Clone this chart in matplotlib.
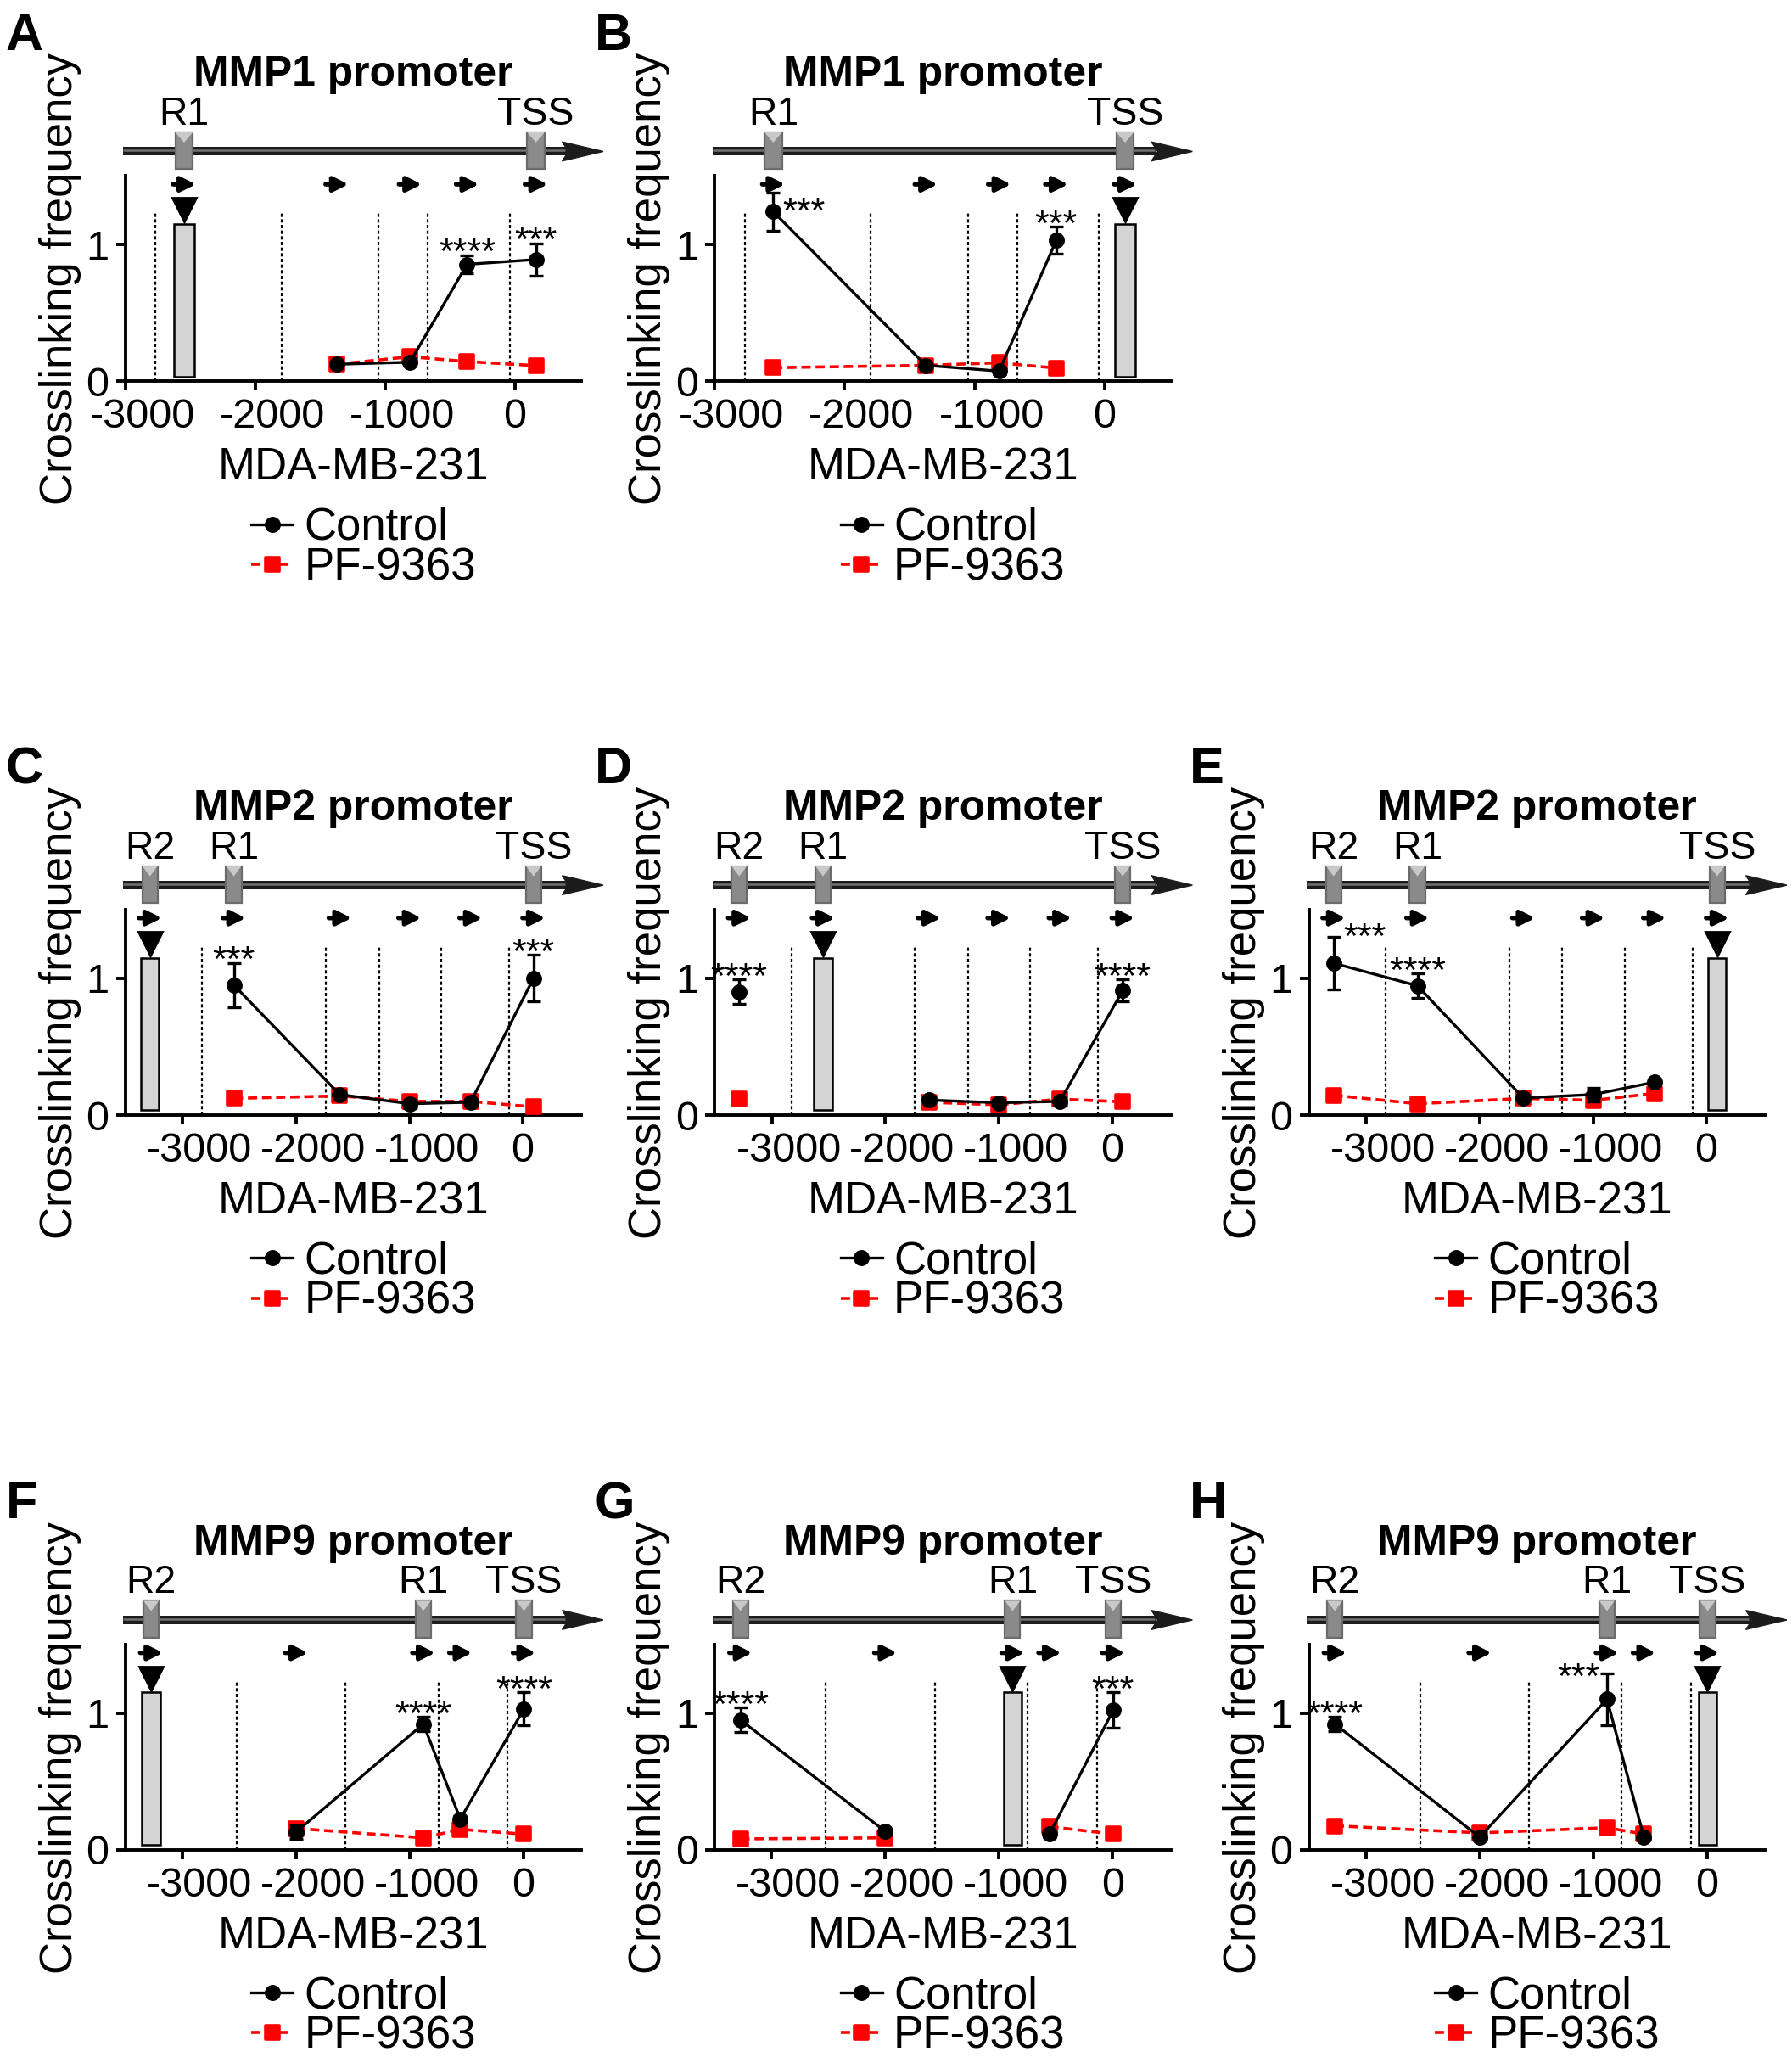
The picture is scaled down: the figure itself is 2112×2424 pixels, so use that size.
import numpy as np
import matplotlib
matplotlib.use('Agg')
import matplotlib.pyplot as plt
from matplotlib.patches import Rectangle, Polygon
from matplotlib.markers import MarkerStyle
from matplotlib.transforms import blended_transform_factory, ScaledTranslation

plt.rcParams['font.family'] = ['Liberation Sans', 'DejaVu Sans']
plt.rcParams['axes.unicode_minus'] = False

nan = np.nan

# fragment centres (bp relative to TSS), promoter sites and cut sites
mmp1_frag = [-2550, -1375, -810, -370, 160]
mmp1_sites = ['R1', 'TSS']
mmp1_site_x = [-2550, 160]
mmp1_cuts = [-2770, -1798, -1051, -673, -40]

mmp2_frag = [-3290, -2550, -1615, -1000, -460, 95]
mmp2_sites = ['R2', 'R1', 'TSS']
mmp2_site_x = [-3290, -2550, 95]
mmp2_cuts = [-2830, -1740, -1270, -720, -120]

mmp9_frag = [-3275, -2000, -880, -555, 5]
mmp9_sites = ['R2', 'R1', 'TSS']
mmp9_site_x = [-3275, -880, 5]
mmp9_cuts = [-2525, -1566, -749, -139]

# crosslinking frequency, nan = anchor (bait) fragment
a_ctrl = [nan, 0.125, 0.14, 0.855, 0.89]
a_err = [nan, 0.02, 0.02, 0.067, 0.12]
a_pf = [nan, 0.125, 0.18, 0.145, 0.115]

b_ctrl = [1.24, 0.117, 0.075, 1.03, nan]
b_err = [0.14, 0.02, 0.02, 0.10, nan]
b_pf = [0.10, 0.117, 0.136, 0.097, nan]

c_ctrl = [nan, 0.95, 0.15, 0.083, 0.094, 1.0]
c_err = [nan, 0.16, 0.02, 0.03, 0.02, 0.17]
c_pf = [nan, 0.122, 0.14, 0.10, 0.10, 0.06]

d_ctrl = [0.90, nan, 0.11, 0.09, 0.10, 0.91]
d_err = [0.09, nan, 0.02, 0.02, 0.02, 0.08]
d_pf = [0.117, nan, 0.094, 0.075, 0.117, 0.097]

e_ctrl = [1.11, 0.945, 0.125, 0.15, 0.24, nan]
e_err = [0.195, 0.088, 0.02, 0.05, 0.02, nan]
e_pf = [0.145, 0.083, 0.122, 0.108, 0.158, nan]

f_ctrl = [nan, 0.13, 0.92, 0.225, 1.03]
f_err = [nan, 0.05, 0.05, 0.02, 0.12]
f_pf = [nan, 0.157, 0.088, 0.15, 0.115]

g_ctrl = [0.95, 0.135, nan, 0.115, 1.02]
g_err = [0.09, 0.02, nan, 0.02, 0.13]
g_pf = [0.08, 0.088, nan, 0.17, 0.115]

h_ctrl = [0.92, 0.093, 1.10, 0.093, nan]
h_err = [0.05, 0.02, 0.19, 0.02, nan]
h_pf = [0.176, 0.124, 0.162, 0.115, nan]

# significance labels: fragment index -> stars
a_stars = {3: '****', 4: '***'}
b_stars = {0: '***', 3: '***'}
c_stars = {1: '***', 5: '***'}
d_stars = {0: '****', 5: '****'}
e_stars = {0: '***', 1: '****'}
f_stars = {2: '****', 4: '****'}
g_stars = {0: '****', 4: '***'}
h_stars = {0: '****', 2: '***'}

promoters = {
    'MMP1': (mmp1_frag, mmp1_sites, mmp1_site_x, mmp1_cuts, (-3000, 510)),
    'MMP2': (mmp2_frag, mmp2_sites, mmp2_site_x, mmp2_cuts, (-3505, 517)),
    'MMP9': (mmp9_frag, mmp9_sites, mmp9_site_x, mmp9_cuts, (-3500, 510)),
}

panels = [
    ('A', 'MMP1', 0, a_ctrl, a_err, a_pf, a_stars),
    ('B', 'MMP1', 4, b_ctrl, b_err, b_pf, b_stars),
    ('C', 'MMP2', 0, c_ctrl, c_err, c_pf, c_stars),
    ('D', 'MMP2', 1, d_ctrl, d_err, d_pf, d_stars),
    ('E', 'MMP2', 5, e_ctrl, e_err, e_pf, e_stars),
    ('F', 'MMP9', 0, f_ctrl, f_err, f_pf, f_stars),
    ('G', 'MMP9', 2, g_ctrl, g_err, g_pf, g_stars),
    ('H', 'MMP9', 4, h_ctrl, h_err, h_pf, h_stars),
]

# layout (figure fractions)
FIG_W, FIG_H, DPI = 2112, 2424, 200
col_left = [0.0701, 0.3989, 0.7306]
row_bottom = [0.8146, 0.4579, 0.1007]
AX_W, AX_H = 0.2543, 0.0998
slots = {'A': (0, 0), 'B': (0, 1), 'C': (1, 0), 'D': (1, 1), 'E': (1, 2),
         'F': (2, 0), 'G': (2, 1), 'H': (2, 2)}
# special star placement: (ha, dy from error-bar top, dx in points)
star_side = {('B', 0): ('left', -0.15, 4), ('E', 0): ('left', -0.015, 4),
             ('H', 2): ('right', -0.04, -3)}

RED = '#ff0000'
FS_TICK, FS_LAB, FS_TITLE, FS_SITE, FS_STAR = 17.5, 19, 17.9, 16.7, 15.5

fig = plt.figure(figsize=(FIG_W / DPI, FIG_H / DPI), dpi=DPI)
# negative tick labels sit a little right of their ticks, as in the source
tick_shift = ScaledTranslation(20 / DPI, 0, fig.dpi_scale_trans)

for letter, prom, bait, ctrl, err, pf, stars in panels:
    r, c = slots[letter]
    ax = fig.add_axes([col_left[c], row_bottom[r], AX_W, AX_H])
    frag, sites, site_x, cuts, xlim = promoters[prom]
    frag = np.array(frag, float)
    ctrl = np.array(ctrl, float)
    err = np.array(err, float)
    pf = np.array(pf, float)
    upp = (xlim[1] - xlim[0]) / (AX_W * FIG_W)  # data units per pixel
    bt = blended_transform_factory(ax.transAxes, ax.transData)

    ax.vlines(cuts, 0, 1.24, colors='k', linestyles=(0, (1.8, 1.2)), lw=0.8)

    # bait fragment marker
    bx = frag[bait]
    ax.add_patch(Rectangle((bx - 80, 0.035), 160, 1.115, facecolor='#d4d4d4',
                           edgecolor='k', lw=0.9, zorder=2))
    ax.plot([bx], [1.255], marker='v', color='k', ms=10, clip_on=False)

    # primer arrows
    for x in frag:
        ax.annotate('', xy=(x + 14 * upp, 1.44), xytext=(x - 13 * upp, 1.44),
                    arrowprops=dict(arrowstyle='-|>', color='k', lw=1.9,
                                    mutation_scale=13, shrinkA=0, shrinkB=0),
                    annotation_clip=False)

    # promoter diagram
    ax.plot([-0.005, 0.97], [1.68, 1.68], color='#1c1c1c', lw=3.6,
            transform=bt, clip_on=False, solid_capstyle='butt')
    ax.plot([-0.005, 0.965], [1.687, 1.687], color='#707070', lw=0.9,
            transform=bt, clip_on=False, solid_capstyle='butt')
    ax.add_patch(Polygon([[0.958, 1.75], [1.048, 1.68], [0.958, 1.61],
                          [0.972, 1.68]], closed=True, facecolor='#1c1c1c',
                         edgecolor='#1c1c1c', lw=0.5, transform=bt, clip_on=False))
    for name, sx in zip(sites, site_x):
        ax.add_patch(Rectangle((sx - 68, 1.55), 136, 0.27, facecolor='#8a8a8a',
                               edgecolor='#6b6b6b', lw=0.8, clip_on=False, zorder=5))
        ax.add_patch(Polygon([[sx - 68, 1.82], [sx + 68, 1.82], [sx, 1.745]],
                             closed=True, facecolor='#c9c9c9', edgecolor='none',
                             clip_on=False, zorder=6))
        ax.text(sx, 1.95, name, ha='center', va='center', fontsize=FS_SITE)
    ax.text(0.5, 2.24, prom + ' promoter', transform=bt, ha='center',
            va='center', fontsize=FS_TITLE, fontweight='bold')

    # data
    pf_line, = ax.plot(frag, pf, color=RED, lw=1.3, linestyle=(0, (3, 1.6)),
                       marker=MarkerStyle('s', joinstyle='round'), ms=6,
                       mew=1.3, mec=RED, mfc=RED, zorder=3, clip_on=False,
                       label='PF-9363')
    ctrl_line, = ax.plot(frag, ctrl, color='k', lw=1.2, marker='o', ms=5.8,
                         zorder=4, clip_on=False, label='Control')
    ax.errorbar(frag, ctrl, yerr=err, fmt='none', ecolor='k', elinewidth=1.2,
                capsize=2.8, capthick=1.2, zorder=4, clip_on=False)

    for i, s in stars.items():
        ha, dy, dx = star_side.get((letter, i), ('center', 0.01, 0))
        ax.annotate(s, xy=(frag[i], ctrl[i] + err[i] + dy), xytext=(dx, 0),
                    textcoords='offset points', ha=ha, va='center',
                    fontsize=FS_STAR, annotation_clip=False)

    ax.set_xlim(*xlim)
    ax.set_ylim(0, 1.5)
    ax.set_xticks([-3000, -2000, -1000, 0])
    ax.set_yticks([0, 1])
    for side in ('top', 'right'):
        ax.spines[side].set_visible(False)
    for side in ('left', 'bottom'):
        ax.spines[side].set_linewidth(1.4)
    ax.tick_params(labelsize=FS_TICK, length=4, width=1.4)
    ax.tick_params(axis='x', pad=3.2)
    ax.tick_params(axis='y', pad=3.0)
    for tick, val in zip(ax.xaxis.get_major_ticks(), ax.get_xticks()):
        if val < 0:
            tick.label1.set_transform(tick.label1.get_transform() + tick_shift)
    ax.set_xlabel('MDA-MB-231', fontsize=FS_LAB)
    ax.xaxis.set_label_coords(0.5, -0.32)
    ax.set_ylabel('Crosslinking frequency', fontsize=FS_LAB)
    ax.yaxis.set_label_coords(-0.097, 0.5)

    ax.legend(handles=[ctrl_line, pf_line], loc='upper left',
              bbox_to_anchor=(0.276, -0.61), frameon=False, fontsize=FS_LAB,
              handlelength=0.93, handletextpad=0.25, labelspacing=-0.05,
              borderpad=0, borderaxespad=0)

    fig.text(col_left[c] - 0.067, row_bottom[r] + AX_H + 0.0795, letter,
             fontsize=22, fontweight='bold', ha='left', va='top')

fig.savefig('out.png', dpi=DPI)
